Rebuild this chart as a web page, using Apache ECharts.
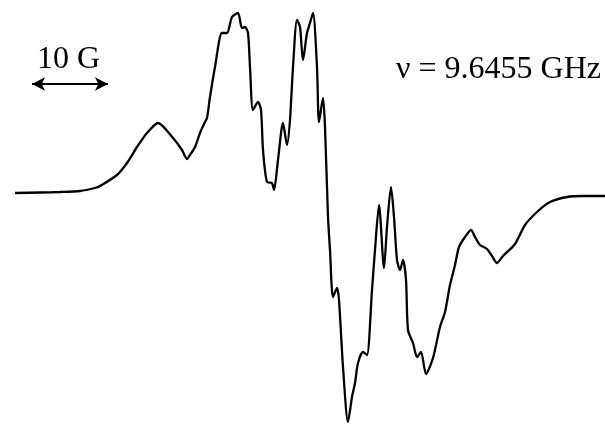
<!DOCTYPE html>
<html>
<head>
<meta charset="utf-8">
<script src="https://cdn.jsdelivr.net/npm/echarts@6/dist/echarts.min.js"></script>
<style>
  html, body { margin: 0; padding: 0; background: #fff; }
  #main { width: 605px; height: 424px; }
</style>
</head>
<body>
<div id="main"></div>
<script>
// field axis (a.u., 7.6 units = 1 G) and signal (a.u., derivative spectrum)
var field = [15,40,60,80,95,100,117,127,137,147,158,173,182,187,190,195,200,205,207,210,
  215,222,227,232,238,242,245,248,250,253,258,261,263,267,272,274,278,283,287,290,
  293,297,300,303,307,310,313,317,319,323,325,328,330,333,337,339,343,348,352,355,
  358,363,367,372,375,379,384,387,391,394,397,400,403,406,408,413,417,421,426,433,
  440,445,450,455,459,465,471,475,480,487,492,497,503,515,525,537,550,567,583,605];
var signal = [7,7.5,8,9,12,14,25,37,53,67,77,62,50,41,45,53,67,78,82,103,
  133,167,167,183,187,172,173,167,133,90,98,90,50,18,17,10,40,77,55,80,
  133,180,173,140,167,177,187,133,78,102,73,-17,-50,-97,-88,-100,-167,-222,-197,-183,
  -163,-152,-155,-90,-50,-5,-68,-27,13,-17,-60,-70,-60,-80,-130,-143,-157,-152,-174,-158,
  -127,-112,-85,-65,-47,-37,-30,-37,-45,-49,-56,-63,-56,-44,-25,-12,-2,3,4,4];

// 10 G scale bar
var unitsPerGauss = 7.6;
var scaleBarStart = 32;
var scaleBarGauss = 10;
var scaleBarLevel = 116;

var points = [];
for (var i = 0; i < field.length; i++) {
    points.push([field[i], signal[i]]);
}

var myChart = echarts.init(document.getElementById('main'));

option = {
    backgroundColor: '#FFFFFF',
    animation: false,
    grid: {
        left: 0,
        right: 0,
        top: 0,
        bottom: 0
    },
    xAxis: {
        type: 'value',
        min: 0,
        max: 605,
        show: false
    },
    yAxis: {
        type: 'value',
        min: -224,
        max: 200,
        show: false
    },
    graphic: [
        {
            type: 'text',
            left: 37,
            top: 44,
            style: {
                text: '10 G',
                font: '32px "Liberation Serif", "DejaVu Serif", serif',
                fill: '#000'
            }
        },
        {
            type: 'text',
            left: 396,
            top: 54,
            style: {
                text: 'ν = 9.6455 GHz',
                font: '32px "Liberation Serif", "DejaVu Serif", serif',
                fill: '#000'
            }
        }
    ],
    series: [
        {
            type: 'line',
            data: points,
            showSymbol: false,
            smooth: 0.25,
            clip: false,
            lineStyle: {
                color: '#000',
                width: 2.3
            },
            markLine: {
                silent: true,
                symbol: ['arrow', 'arrow'],
                symbolSize: [10, 13],
                label: { show: false },
                lineStyle: {
                    color: '#000',
                    width: 2,
                    type: 'solid'
                },
                data: [[
                    { coord: [scaleBarStart, scaleBarLevel] },
                    { coord: [scaleBarStart + scaleBarGauss * unitsPerGauss, scaleBarLevel] }
                ]]
            }
        }
    ]
};
myChart.setOption(option, true);
</script>
</body>
</html>
